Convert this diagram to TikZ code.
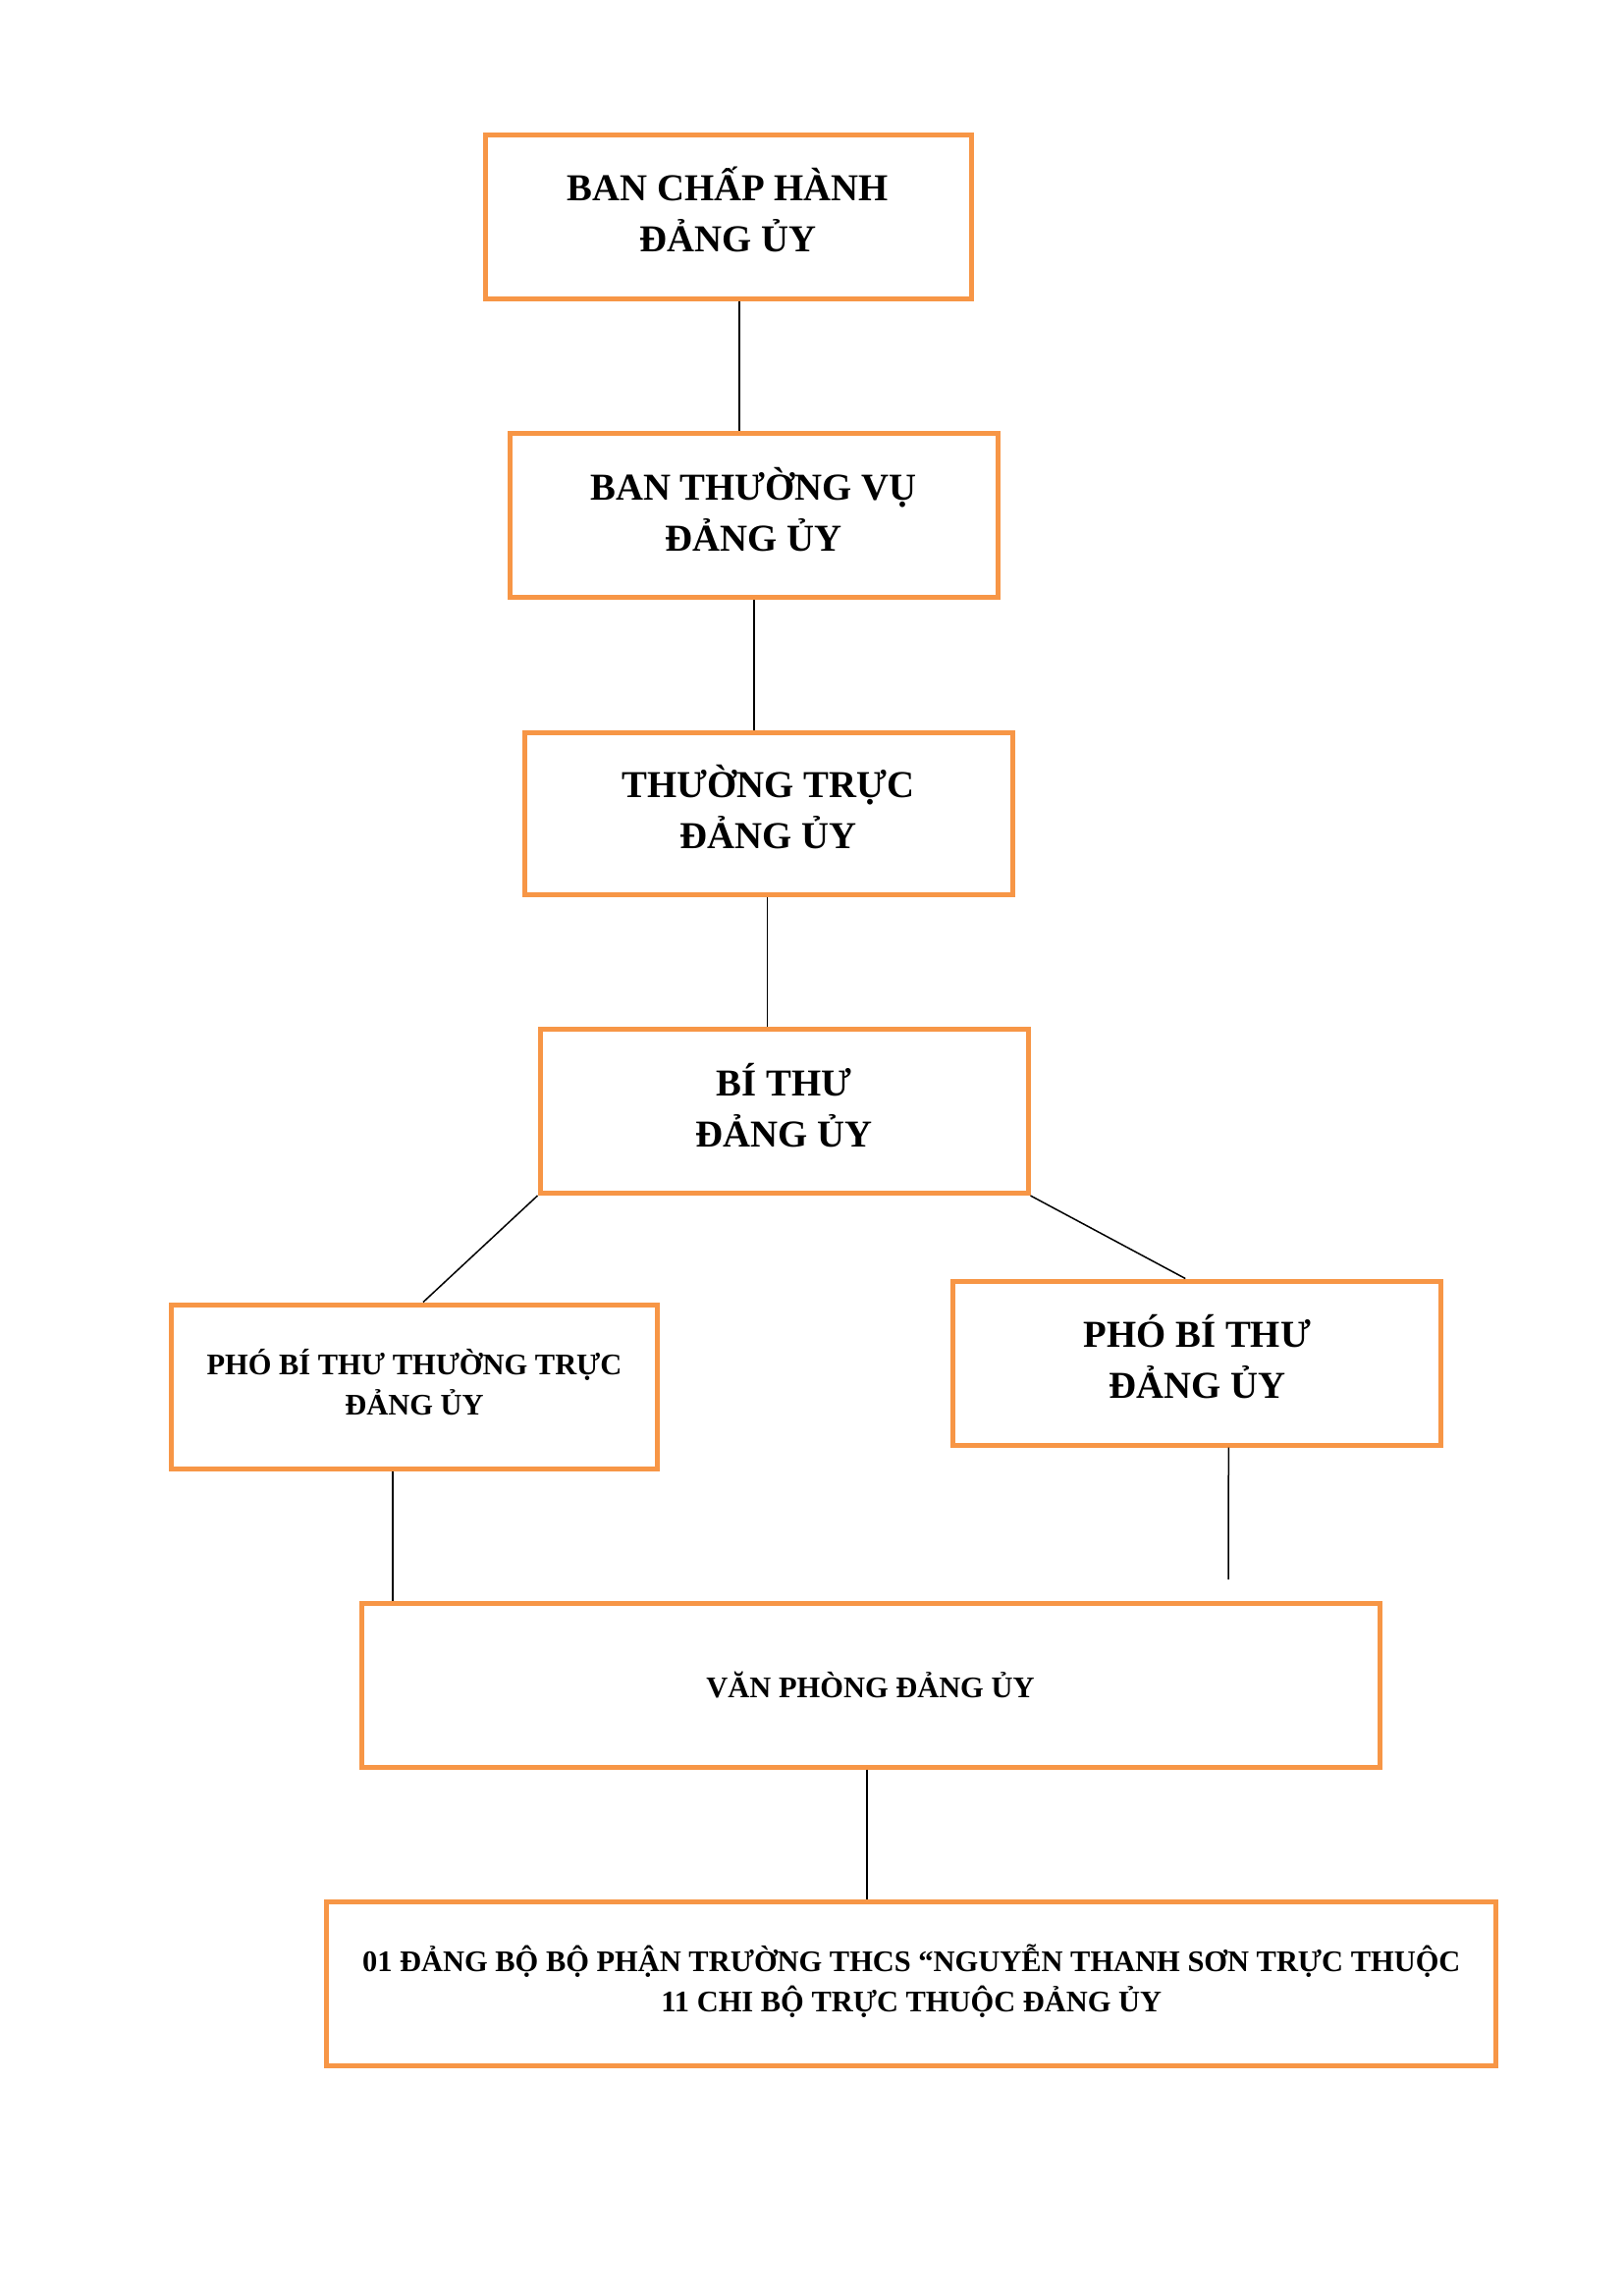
\documentclass[tikz,border=0pt]{standalone}
\usepackage{fontspec}
\setmainfont{Liberation Serif}
\usetikzlibrary{positioning}
\def\u{0.3613pt}
\newcommand{\twoline}[2]{\begin{tabular}{@{}c@{}}#1\\#2\end{tabular}}
\definecolor{boxorange}{HTML}{F79646}
\tikzset{
  orgbox/.style={draw=boxorange, line width=5*\u, rectangle, inner sep=0pt, align=center, text=black},
  bigtext/.style={font=\bfseries\fontsize{14}{18.8}\selectfont},
  smalltext/.style={font=\bfseries\fontsize{11}{15}\selectfont},
  conn/.style={draw=black, line width=1.5*\u}
}
\begin{document}
\begin{tikzpicture}[x=0.3613pt, y=-0.3613pt]
\useasboundingbox (0,0) rectangle (1654,2339);
\node[orgbox, bigtext, minimum width=495*\u, minimum height=167*\u] (b1) at (741.5,220.5) {\twoline{BAN CHẤP HÀNH}{ĐẢNG ỦY}};
\node[orgbox, bigtext, minimum width=497*\u, minimum height=167*\u] (b2) at (767.5,525) {\twoline{BAN THƯỜNG VỤ}{ĐẢNG ỦY}};
\node[orgbox, bigtext, minimum width=497*\u, minimum height=165*\u] (b3) at (782.5,828.5) {\twoline{THƯỜNG TRỰC}{ĐẢNG ỦY}};
\node[orgbox, bigtext, minimum width=497*\u, minimum height=167*\u] (b4) at (798.5,1132) {\twoline{BÍ THƯ}{ĐẢNG ỦY}};
\node[orgbox, smalltext, minimum width=495*\u, minimum height=167*\u] (b5) at (422,1412.5) {\twoline{PHÓ BÍ THƯ THƯỜNG TRỰC}{ĐẢNG ỦY}};
\node[orgbox, bigtext, minimum width=497*\u, minimum height=167*\u] (b6) at (1219.3,1388.5) {\twoline{PHÓ BÍ THƯ}{ĐẢNG ỦY}};
\node[orgbox, smalltext, minimum width=1037*\u, minimum height=167*\u] (b7) at (886.5,1716.5) {VĂN PHÒNG ĐẢNG ỦY};
\node[orgbox, smalltext, minimum width=1191*\u, minimum height=167*\u] (b8) at (928.3,2020.5) {\twoline{01 ĐẢNG BỘ BỘ PHẬN TRƯỜNG THCS “NGUYỄN THANH SƠN TRỰC THUỘC}{11 CHI BỘ TRỰC THUỘC ĐẢNG ỦY}};
\coordinate (end6) at (1251,1609);
\draw[conn] ([xshift=11.5*\u]b1.south) -- ([xshift=11.5*\u]b1.south |- b2.north);
\draw[conn] ([xshift=0.5*\u]b2.south) -- ([xshift=0.5*\u]b2.south |- b3.north);
\draw[conn] ([xshift=-1*\u]b3.south) -- ([xshift=-1*\u]b3.south |- b4.north);
\draw[conn] (b4.south west) -- ([xshift=9*\u]b5.north);
\draw[conn] (b4.south east) -- ([xshift=-12*\u]b6.north);
\draw[conn] ([xshift=-22*\u]b5.south) -- ([xshift=-22*\u]b5.south |- b7.north);
\draw[conn] ([xshift=32*\u]b6.south) -- (end6);
\draw[conn] ([xshift=-3.5*\u]b7.south) -- ([xshift=-3.5*\u]b7.south |- b8.north);
\end{tikzpicture}
\end{document}
